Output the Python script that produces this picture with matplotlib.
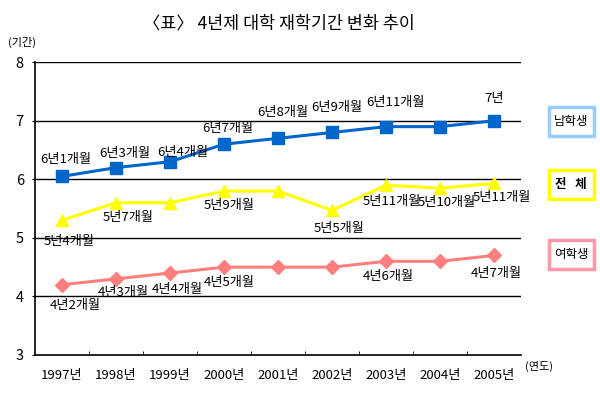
import matplotlib
matplotlib.use('Agg')
import matplotlib.pyplot as plt
from matplotlib.patches import Rectangle

plt.rcParams['font.family'] = ['Noto Sans CJK KR', 'DejaVu Sans']

years = ['1997년', '1998년', '1999년', '2000년', '2001년', '2002년', '2003년', '2004년', '2005년']
male = [6.05, 6.2, 6.3, 6.6, 6.7, 6.8, 6.9, 6.9, 7.0]
total = [5.3, 5.6, 5.6, 5.8, 5.8, 5.47, 5.9, 5.85, 5.93]
female = [4.2, 4.3, 4.4, 4.5, 4.5, 4.5, 4.6, 4.6, 4.7]

male_labels = ['6년1개월', '6년3개월', '6년4개월', '6년7개월', '6년8개월', '6년9개월', '6년11개월', '', '7년']
total_labels = ['5년4개월', '5년7개월', '', '5년9개월', '', '5년5개월', '5년11개월', '5년10개월', '5년11개월']
female_labels = ['4년2개월', '4년3개월', '4년4개월', '4년5개월', '', '', '4년6개월', '', '4년7개월']

# label offsets in pixels (dx, dy)
male_off = [(4, 17), (9, 14), (13, 9), (4, 16), (5, 26), (5, 25), (10, 24), (0, 0), (0, 22)]
total_off = [(7, -21), (12, -15), (0, 0), (5, -14), (0, 0), (7, -18), (6, -16), (7, -14), (8, -14)]
female_off = [(13, -21), (7, -14), (7, -16), (5, -15), (0, 0), (0, 0), (2, -15), (0, 0), (2, -18)]

x = [i + 0.5 for i in range(len(years))]

fig = plt.figure(figsize=(6.0, 3.93), dpi=100)
ax = fig.add_axes([0.0583, 0.0967, 0.81, 0.745])

ax.plot(x, male, color='#0066CC', lw=2.2, marker='s', ms=8.5, zorder=3)
ax.plot(x, total, color='#FFFF00', lw=2.2, marker='^', ms=9, zorder=3)
ax.plot(x, female, color='#FF7F7F', lw=2.2, marker='D', ms=7, zorder=3)

for vals, labs, offs in [(male, male_labels, male_off),
                         (total, total_labels, total_off),
                         (female, female_labels, female_off)]:
    for xi, v, lab, off in zip(x, vals, labs, offs):
        if lab:
            ax.annotate(lab, (xi, v), xytext=off, textcoords='offset pixels',
                        ha='center', va='center', fontsize=9.5, zorder=4)

ax.set_xlim(0, 9)
ax.set_ylim(3, 8)
ax.set_yticks([3, 4, 5, 6, 7, 8])
ax.set_yticklabels(['3', '4', '5', '6', '7', '8'], fontsize=10.5)
ax.set_xticks(x)
ax.set_xticklabels(years, fontsize=9.5)
ax.tick_params(axis='x', length=0, pad=10)
ax.set_xticks(range(1, 9), minor=True)
ax.tick_params(axis='x', which='minor', direction='in', length=3)
ax.tick_params(axis='y', length=2, pad=6)
for yv in [4, 5, 6, 7, 8]:
    ax.axhline(yv, color='black', lw=1.0, zorder=1)
ax.spines['top'].set_visible(False)
ax.spines['right'].set_visible(False)
ax.spines['left'].set_linewidth(1.2)
ax.spines['bottom'].set_linewidth(1.2)

fig.text(0.465, 0.94, '〈표〉 4년제 대학 재학기간 변화 추이', ha='center', va='center', fontsize=12.5)
fig.text(0.037, 0.893, '(기간)', ha='center', va='center', fontsize=8)
fig.text(0.898, 0.068, '(연도)', ha='center', va='center', fontsize=8)

legend_items = [('남학생', '#99CCFF', 0.69), ('전   체', '#FFFF00', 0.531), ('여학생', '#FF99AA', 0.352)]
for name, col, yc in legend_items:
    w, h = 45 / 600, 29 / 393
    xc = 571 / 600
    fig.add_artist(Rectangle((xc - w / 2, yc - h / 2), w, h, transform=fig.transFigure,
                             facecolor='white', edgecolor=col, lw=2.5))
    fig.text(xc, yc, name, ha='center', va='center', fontsize=9,
             fontweight='bold' if name.startswith('전') else 'normal')

plt.savefig('out.png', dpi=100)
